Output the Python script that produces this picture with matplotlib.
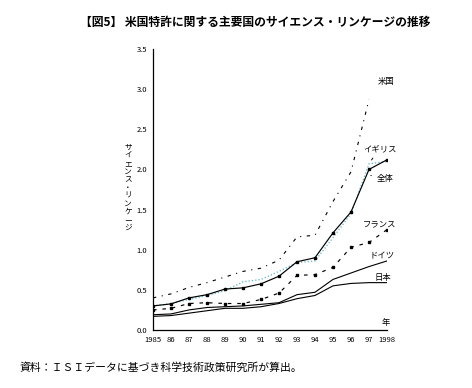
import numpy as np
import matplotlib
matplotlib.use("Agg")
import matplotlib.pyplot as plt

plt.rcParams['font.family'] = ['Noto Sans CJK JP', 'DejaVu Sans']

years = np.arange(1985, 1999)
year_labels = ["1985", "86", "87", "88", "89", "90", "91", "92", "93", "94", "95", "96", "97", "1998"]

# 米国 has no 1998 value in the figure
usa = [0.40, 0.45, 0.53, 0.59, 0.66, 0.73, 0.77, 0.87, 1.16, 1.18, 1.60, 1.97, 2.87]
uk = [0.30, 0.33, 0.38, 0.43, 0.49, 0.60, 0.63, 0.73, 0.84, 0.86, 1.15, 1.45, 2.07, 2.10]
total = [0.30, 0.325, 0.40, 0.44, 0.51, 0.525, 0.575, 0.67, 0.85, 0.90, 1.21, 1.47, 2.00, 2.12]
france = [0.25, 0.27, 0.33, 0.34, 0.33, 0.33, 0.38, 0.46, 0.68, 0.69, 0.78, 1.03, 1.09, 1.25]
germany = [0.19, 0.20, 0.25, 0.28, 0.29, 0.30, 0.32, 0.34, 0.44, 0.47, 0.63, 0.71, 0.79, 0.86]
japan = [0.17, 0.18, 0.21, 0.24, 0.27, 0.27, 0.29, 0.33, 0.39, 0.43, 0.55, 0.58, 0.59, 0.59]

fig = plt.figure(figsize=(4.72, 3.88), dpi=100)
ax = fig.add_axes([153/472, 58/388, 234/472, 281/388])

ax.plot(years[:len(usa)], usa, color='black', lw=0.8, dashes=(3, 5, 1, 5))
ax.plot(years, uk, color='#5ab4c8', lw=0.9, linestyle=':')
ax.plot(years, total, color='black', lw=0.85, marker='s', ms=2.0)
ax.plot(years, france, color='black', lw=0.85, dashes=(3, 5), marker='s', ms=1.8)
ax.plot(years, germany, color='black', lw=0.8)
ax.plot(years, japan, color='black', lw=0.8)

fs = 6
ax.text(1997.95, 3.09, "米国", fontsize=fs, ha='center', va='center')
ax.annotate("イギリス", xy=(1997.05, 2.09), xytext=(1997.6, 2.26), fontsize=fs,
            ha='center', va='center', arrowprops=dict(arrowstyle='-', lw=0.7, color='black'))
ax.annotate("全体", xy=(1996.95, 1.93), xytext=(1997.9, 1.89), fontsize=fs,
            ha='center', va='center', arrowprops=dict(arrowstyle='-', lw=0.7, color='black'))
ax.text(1997.6, 1.32, "フランス", fontsize=fs, ha='center', va='center')
ax.text(1997.7, 0.92, "ドイツ", fontsize=fs, ha='center', va='center')
ax.text(1997.75, 0.66, "日本", fontsize=fs, ha='center', va='center')
ax.text(1997.95, 0.09, "年", fontsize=fs, ha='center', va='center')

ax.set_xlim(1985, 1998)
ax.set_ylim(0, 3.5)
ax.set_xticks(years)
ax.set_xticklabels(year_labels, fontsize=5.5)
ax.set_yticks(np.arange(0, 3.6, 0.5))
ax.set_yticklabels([f"{v:.1f}" for v in np.arange(0, 3.6, 0.5)], fontsize=5.5)
ax.tick_params(length=0, pad=4)
ax.spines['top'].set_visible(False)
ax.spines['right'].set_visible(False)
for s in ['left', 'bottom']:
    ax.spines[s].set_linewidth(0.9)

ylab = "サイエンス・リンケージ"
fig.text(128/472, 1 - 188/388, "\n".join(ylab), fontsize=5.5, ha='center', va='center',
         linespacing=1.0)

fig.text(255/472, 1 - 22/388, "【図5】 米国特許に関する主要国のサイエンス・リンケージの推移",
         fontsize=8.5, fontweight='bold', ha='center', va='center')
fig.text(20/472, 1 - 368/388, "資料：ＩＳＩデータに基づき科学技術政策研究所が算出。",
         fontsize=7.8, ha='left', va='center')

fig.savefig("out.png", dpi=100)
